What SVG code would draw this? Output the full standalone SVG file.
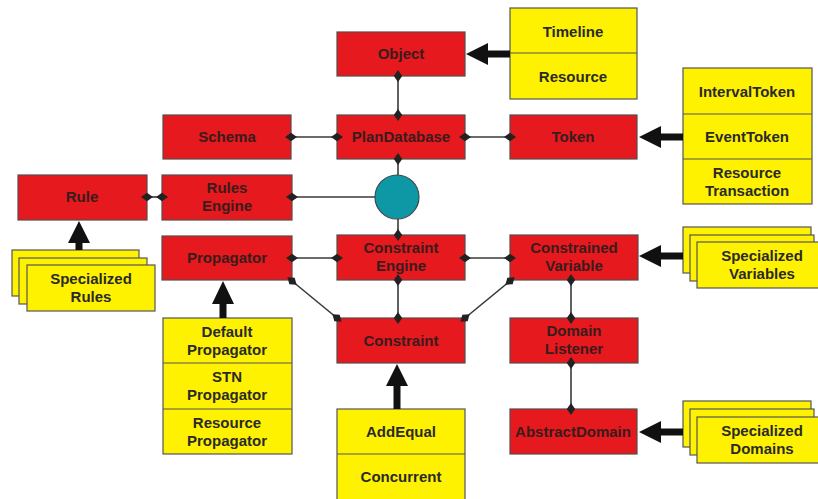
<svg xmlns="http://www.w3.org/2000/svg" width="818" height="499" viewBox="0 0 818 499">
<defs>
<style>
.r{fill:#e5191e;stroke:#5a4a4a;stroke-width:1.2}
.y{fill:#fff200;stroke:#555;stroke-width:1.2}
.t{font-family:"Liberation Sans",Arial,sans-serif;font-weight:bold;font-size:15px;text-anchor:middle}
.rt{fill:#3a1c1c}
.yt{fill:#2a2a2a}
.c{stroke:#3a3a3a;stroke-width:1.6;fill:none;marker-start:url(#d);marker-end:url(#d)}
.big{fill:#111}
</style>
<marker id="d" markerUnits="userSpaceOnUse" markerWidth="12" markerHeight="10" viewBox="0 -4 10 8" refX="5" refY="0" orient="auto">
<path d="M0,0 L5,-3.5 L10,0 L5,3.5 z" fill="#222"/>
</marker>
</defs>
<rect width="818" height="499" fill="#fff"/>

<g id="object"><rect class="r" x="337" y="32" width="128" height="44"/><text class="t rt" x="401" y="59">Object</text></g>
<g id="timeline-resource">
<rect class="y" x="510" y="8" width="127" height="91"/><line x1="510" y1="53" x2="637" y2="53" stroke="#555" stroke-width="1.2"/>
<text class="t yt" x="573" y="37">Timeline</text><text class="t yt" x="573" y="82">Resource</text></g>

<g id="schema"><rect class="r" x="163" y="115" width="128" height="44"/><text class="t rt" x="227" y="142">Schema</text></g>
<g id="plandatabase"><rect class="r" x="337" y="115" width="128" height="44"/><text class="t rt" x="401" y="142">PlanDatabase</text></g>
<g id="token"><rect class="r" x="510" y="115" width="127" height="44"/><text class="t rt" x="573" y="142">Token</text></g>
<g id="token-types">
<rect class="y" x="683" y="68" width="129" height="136"/>
<line x1="683" y1="114" x2="812" y2="114" stroke="#555" stroke-width="1.2"/>
<line x1="683" y1="159" x2="812" y2="159" stroke="#555" stroke-width="1.2"/>
<text class="t yt" x="747" y="97">IntervalToken</text>
<text class="t yt" x="747" y="142">EventToken</text>
<text class="t yt" x="747" y="178">Resource</text><text class="t yt" x="747" y="196">Transaction</text></g>

<g id="rule"><rect class="r" x="18" y="175" width="129" height="45"/><text class="t rt" x="82" y="202">Rule</text></g>
<g id="rules-engine"><rect class="r" x="162" y="175" width="130" height="45"/><text class="t rt" x="227" y="193">Rules</text><text class="t rt" x="227" y="211">Engine</text></g>
<g id="specialized-rules">
<rect class="y" x="12" y="250" width="127" height="46"/>
<rect class="y" x="19" y="258" width="128" height="46"/>
<rect class="y" x="27" y="265" width="128" height="46"/>
<text class="t yt" x="91" y="284">Specialized</text><text class="t yt" x="91" y="302">Rules</text></g>

<g id="propagator"><rect class="r" x="162" y="236" width="130" height="44"/><text class="t rt" x="227" y="263">Propagator</text></g>
<g id="propagator-types">
<rect class="y" x="163" y="318" width="129" height="136"/>
<line x1="163" y1="363" x2="292" y2="363" stroke="#555" stroke-width="1.2"/>
<line x1="163" y1="409" x2="292" y2="409" stroke="#555" stroke-width="1.2"/>
<text class="t yt" x="227" y="337">Default</text><text class="t yt" x="227" y="355">Propagator</text>
<text class="t yt" x="227" y="382">STN</text><text class="t yt" x="227" y="400">Propagator</text>
<text class="t yt" x="227" y="428">Resource</text><text class="t yt" x="227" y="446">Propagator</text></g>

<g id="constraint-engine"><rect class="r" x="337" y="235" width="128" height="45"/><text class="t rt" x="401" y="253">Constraint</text><text class="t rt" x="401" y="271">Engine</text></g>
<g id="constrained-variable"><rect class="r" x="510" y="235" width="128" height="45"/><text class="t rt" x="574" y="253">Constrained</text><text class="t rt" x="574" y="271">Variable</text></g>
<g id="specialized-variables">
<rect class="y" x="683" y="227" width="128" height="46"/>
<rect class="y" x="690" y="235" width="124" height="46"/>
<rect class="y" x="697" y="242" width="126" height="46"/>
<text class="t yt" x="762" y="261">Specialized</text><text class="t yt" x="762" y="279">Variables</text></g>

<g id="constraint"><rect class="r" x="337" y="318" width="128" height="45"/><text class="t rt" x="401" y="346">Constraint</text></g>
<g id="domain-listener"><rect class="r" x="510" y="318" width="128" height="45"/><text class="t rt" x="574" y="336">Domain</text><text class="t rt" x="574" y="354">Listener</text></g>

<g id="constraint-types">
<rect class="y" x="337" y="409" width="128" height="92"/>
<line x1="337" y1="454" x2="465" y2="454" stroke="#555" stroke-width="1.2"/>
<text class="t yt" x="401" y="437">AddEqual</text>
<text class="t yt" x="401" y="482">Concurrent</text></g>

<g id="abstract-domain"><rect class="r" x="510" y="409" width="127" height="45"/><text class="t rt" x="573" y="437">AbstractDomain</text></g>
<g id="specialized-domains">
<rect class="y" x="683" y="401" width="128" height="46"/>
<rect class="y" x="690" y="409" width="124" height="46"/>
<rect class="y" x="697" y="417" width="126" height="46"/>
<text class="t yt" x="762" y="436">Specialized</text><text class="t yt" x="762" y="454">Domains</text></g>

<g id="connectors">
<line class="c" x1="398" y1="76" x2="398" y2="115"/>
<line class="c" x1="291" y1="137" x2="337" y2="137"/>
<line class="c" x1="465" y1="137" x2="510" y2="137"/>
<line class="c" x1="398" y1="159" x2="398" y2="175" style="marker-end:none"/>
<line class="c" x1="147" y1="197" x2="162" y2="197"/>
<line class="c" x1="292" y1="197" x2="375" y2="197" style="marker-end:none"/>
<line class="c" x1="398" y1="219" x2="398" y2="235" style="marker-start:none"/>
<line class="c" x1="292" y1="258" x2="337" y2="258"/>
<line class="c" x1="465" y1="258" x2="510" y2="258"/>
<line class="c" x1="398" y1="280" x2="398" y2="318"/>
<line class="c" x1="292" y1="281" x2="337" y2="318"/>
<line class="c" x1="510" y1="281" x2="465" y2="318"/>
<line class="c" x1="571" y1="280" x2="571" y2="318"/>
<line class="c" x1="571" y1="363" x2="571" y2="409"/>
<polygon class="big" points="510,50.5 488,50.5 488,43 466,54 488,65 488,57.5 510,57.5"/>
<polygon class="big" points="683,133.5 661,133.5 661,126 639,137 661,148 661,140.5 683,140.5"/>
<polygon class="big" points="683,252.5 661,252.5 661,245 639,256 661,267 661,259.5 683,259.5"/>
<polygon class="big" points="683,428.5 661,428.5 661,421 639,432 661,443 661,435.5 683,435.5"/>
<polygon class="big" points="75.5,250 75.5,243 68,243 79,221 90,243 82.5,243 82.5,250"/>
<polygon class="big" points="219.5,318 219.5,304 212,304 223,281 234,304 226.5,304 226.5,318"/>
<polygon class="big" points="393.5,409 393.5,386 386,386 397,364 408,386 400.5,386 400.5,409"/>
</g>

<g id="hub"><circle cx="397" cy="197" r="22" fill="#0e98a6" stroke="#3a4a4a" stroke-width="1.2"/></g>
</svg>
